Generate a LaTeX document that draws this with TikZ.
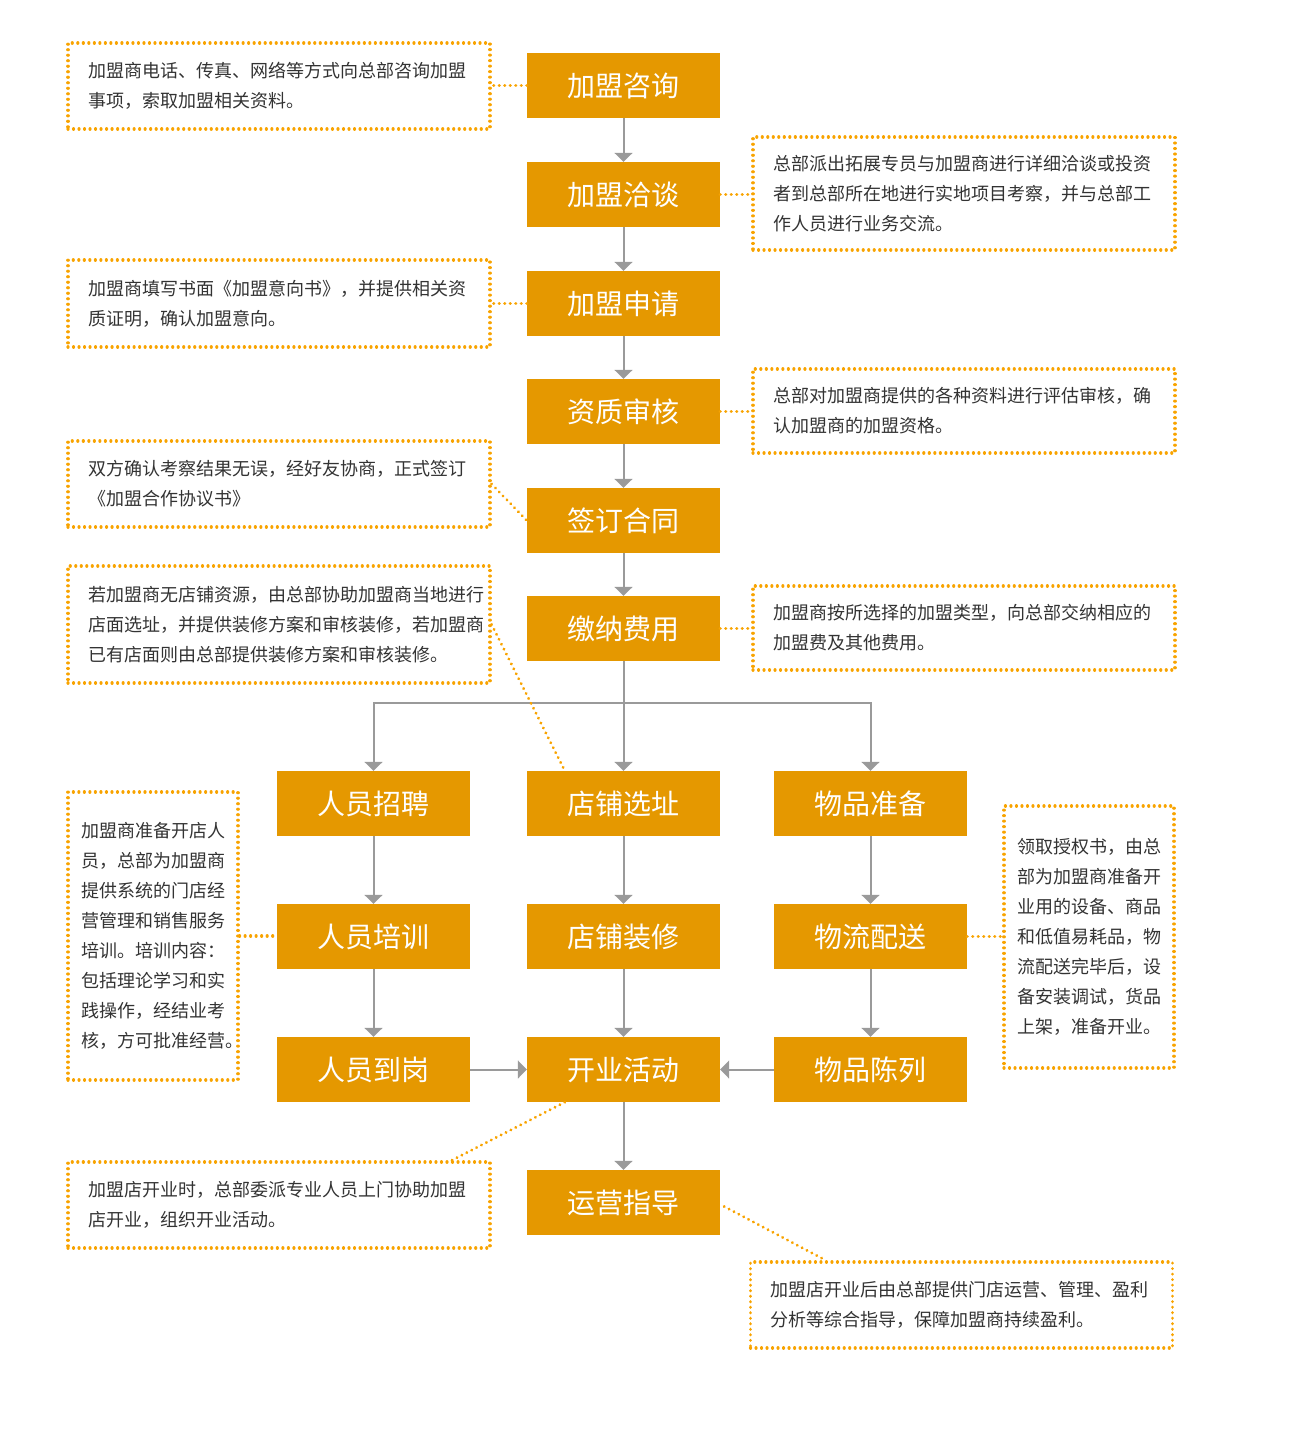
\documentclass[tikz,border=0pt]{standalone}
\usepackage{fontspec}
\newfontfamily\cjk{Noto Sans CJK SC}
\usetikzlibrary{arrows.meta,calc}
\definecolor{boxorange}{HTML}{E59800}
\definecolor{dotorange}{HTML}{F8A300}
\definecolor{linegray}{HTML}{9A9A9A}
\definecolor{notetext}{HTML}{333333}
\tikzset{
  stepbox/.style={fill=boxorange, text=white, minimum width=193pt, minimum height=65pt, inner sep=0pt, font=\cjk\fontsize{28}{28}\selectfont},
  dotline/.style={draw=dotorange, line width=3.2pt, line cap=round, dash pattern=on 0.01pt off 5.5pt},
  note/.style={dotline, text=notetext, align=left, inner ysep=0pt, font=\cjk\fontsize{18}{30}\selectfont},
  widenote/.style={note, inner xsep=20pt, text width=382pt},
  narrownote/.style={note, inner xsep=13pt, text width=144pt},
  flow/.style={draw=linegray, line width=2pt, -{Triangle[width=18pt,length=9pt]}},
}
\begin{document}
\begin{tikzpicture}[x=1pt,y=-1pt]
\useasboundingbox (0,0) rectangle (1305,1433);
% main column
\node[stepbox] (b1) at (623.5,85.5) {加盟咨询};
\node[stepbox] (b2) at (623.5,194.5) {加盟洽谈};
\node[stepbox] (b3) at (623.5,303.5) {加盟申请};
\node[stepbox] (b4) at (623.5,411.5) {资质审核};
\node[stepbox] (b5) at (623.5,520.5) {签订合同};
\node[stepbox] (b6) at (623.5,628.5) {缴纳费用};
\node[stepbox] (r1a) at (373.5,803.5) {人员招聘};
\node[stepbox] (r1b) at (623.5,803.5) {店铺选址};
\node[stepbox] (r1c) at (870.5,803.5) {物品准备};
\node[stepbox] (r2a) at (373.5,936.5) {人员培训};
\node[stepbox] (r2b) at (623.5,936.5) {店铺装修};
\node[stepbox] (r2c) at (870.5,936.5) {物流配送};
\node[stepbox] (r3a) at (373.5,1069.5) {人员到岗};
\node[stepbox] (r3b) at (623.5,1069.5) {开业活动};
\node[stepbox] (r3c) at (870.5,1069.5) {物品陈列};
\node[stepbox] (b7) at (623.5,1202.5) {运营指导};

% notes
\node[widenote, minimum height=86pt] (n1) at (279,86) {加盟商电话、传真、网络等方式向总部咨询加盟\\事项，索取加盟相关资料。};
\node[widenote, minimum height=113pt] (n2) at (964,193.5) {总部派出拓展专员与加盟商进行详细洽谈或投资\\者到总部所在地进行实地项目考察，并与总部工\\作人员进行业务交流。};
\node[widenote, minimum height=87pt] (n3) at (279,303.5) {加盟商填写书面《加盟意向书》，并提供相关资\\质证明，确认加盟意向。};
\node[widenote, minimum height=84pt] (n4) at (964,411) {总部对加盟商提供的各种资料进行评估审核，确\\认加盟商的加盟资格。};
\node[widenote, minimum height=86pt] (n5) at (279,484) {双方确认考察结果无误，经好友协商，正式签订\\《加盟合作协议书》};
\node[widenote, minimum height=117pt] (n6) at (279,624.5) {若加盟商无店铺资源，由总部协助加盟商当地进行\\店面选址，并提供装修方案和审核装修，若加盟商\\已有店面则由总部提供装修方案和审核装修。};
\node[widenote, minimum height=84pt] (n7) at (964,628) {加盟商按所选择的加盟类型，向总部交纳相应的\\加盟费及其他费用。};
\node[narrownote, minimum height=288pt] (n8) at (153,936) {加盟商准备开店人\\员，总部为加盟商\\提供系统的门店经\\营管理和销售服务\\培训。培训内容：\\包括理论学习和实\\践操作，经结业考\\核，方可批准经营。};
\node[narrownote, minimum height=262pt] (n9) at (1089,937) {领取授权书，由总\\部为加盟商准备开\\业用的设备、商品\\和低值易耗品，物\\流配送完毕后，设\\备安装调试，货品\\上架，准备开业。};
\node[widenote, minimum height=86pt] (n10) at (279,1205) {加盟店开业时，总部委派专业人员上门协助加盟\\店开业，组织开业活动。};
\node[widenote, minimum height=86pt] (n11) at (961.5,1305) {加盟店开业后由总部提供门店运营、管理、盈利\\分析等综合指导，保障加盟商持续盈利。};

% flow arrows
\draw[flow] (b1) -- (b2);
\draw[flow] (b2) -- (b3);
\draw[flow] (b3) -- (b4);
\draw[flow] (b4) -- (b5);
\draw[flow] (b5) -- (b6);
\draw[flow] (b6) -- (r1b);
\draw[flow] (b6.south) -- ++(0,42) -| (r1a.north);
\draw[flow] (b6.south) -- ++(0,42) -| (r1c.north);
\draw[flow] (r1a) -- (r2a);
\draw[flow] (r2a) -- (r3a);
\draw[flow] (r1b) -- (r2b);
\draw[flow] (r2b) -- (r3b);
\draw[flow] (r1c) -- (r2c);
\draw[flow] (r2c) -- (r3c);
\draw[flow] (r3a) -- (r3b);
\draw[flow] (r3c) -- (r3b);
\draw[flow] (r3b) -- (b7);

% note connectors
\draw[dotline] (b1.west) -- (b1.west -| n1.east);
\draw[dotline] (b2.east) -- (b2.east -| n2.west);
\draw[dotline] (b3.west) -- (b3.west -| n3.east);
\draw[dotline] (b4.east) -- (b4.east -| n4.west);
\draw[dotline] (n5.east) -- (b5.west);
\draw[dotline] (n6.east) -- ($(r1b.north west)+(38,0)$);
\draw[dotline] (b6.east) -- (b6.east -| n7.west);
\draw[dotline] (n8.east) -- (n8.east -| r2a.west);
\draw[dotline] (r2c.east) -- (r2c.east -| n9.west);
\draw[dotline] ($(r3b.south west)+(38,0)$) -- ($(n10.north east)+(-40,0)$);
\draw[dotline] ($(b7.east)+(4,4)$) -- ($(n11.north west)+(77,0)$);
\end{tikzpicture}
\end{document}
